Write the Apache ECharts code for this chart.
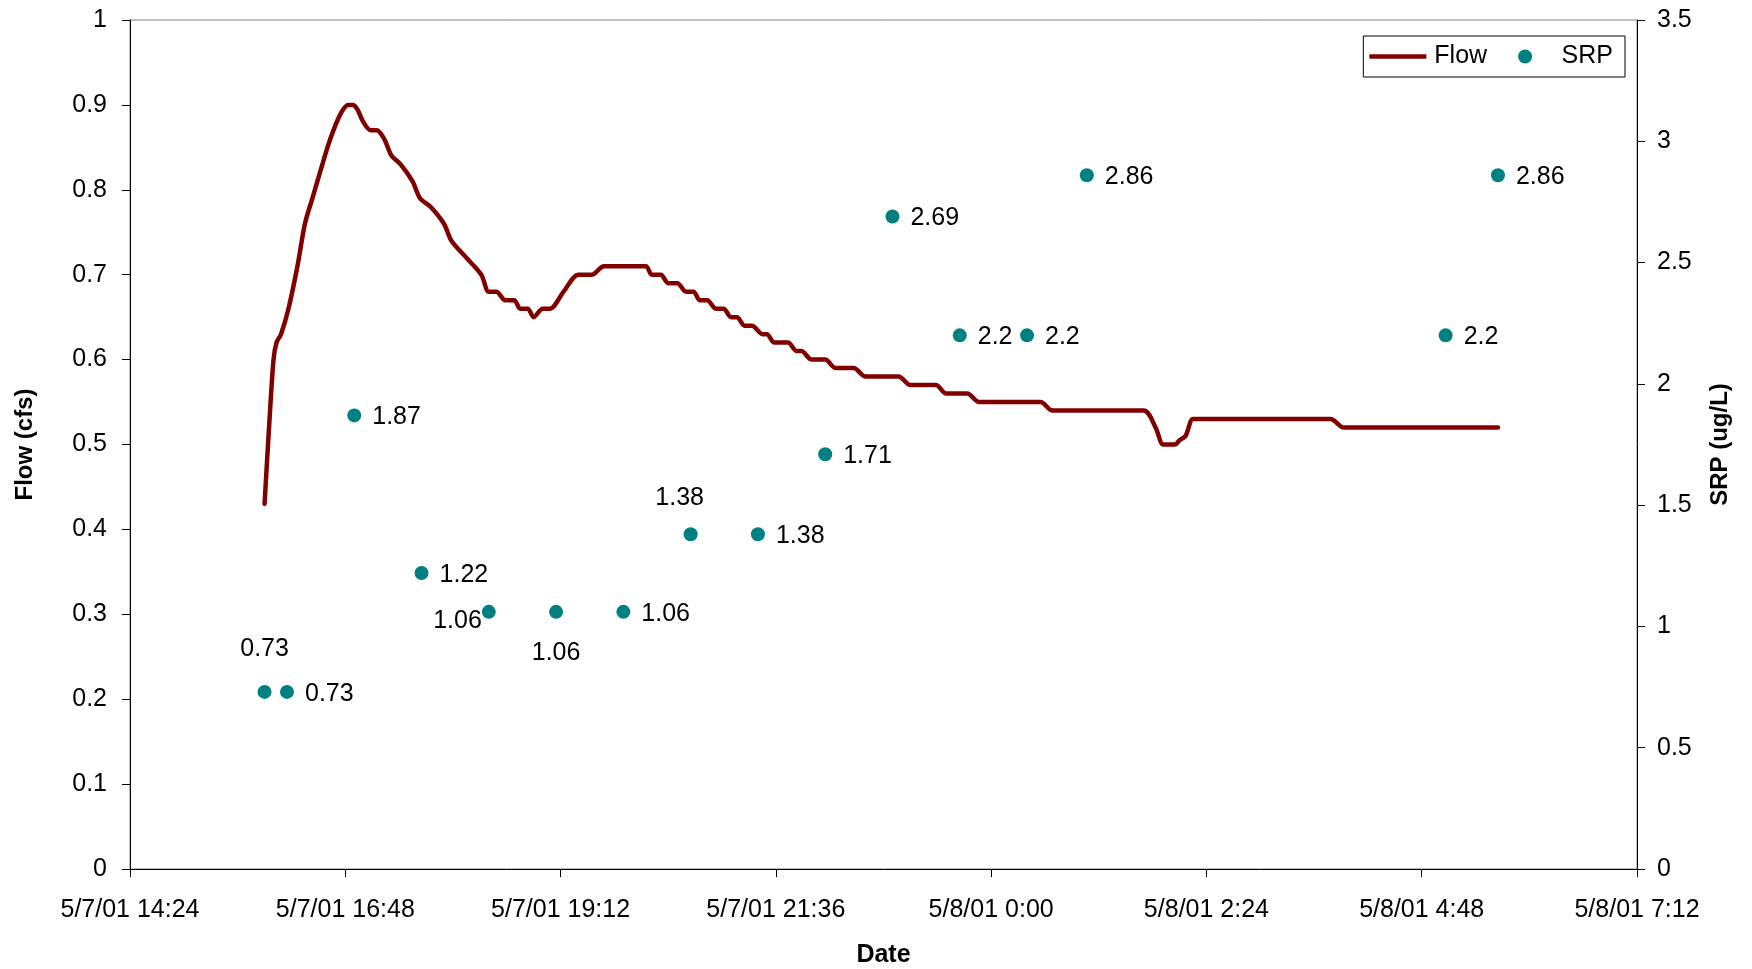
<!DOCTYPE html>
<html>
<head>
<meta charset="utf-8">
<title>Flow and SRP</title>
<script src="https://cdn.jsdelivr.net/npm/echarts@6/dist/echarts.min.js"></script>
<style>
  html, body { margin: 0; padding: 0; background: #ffffff; }
  #chart { width: 1752px; height: 969px; }
</style>
</head>
<body>
<div id="chart"></div>
<script>
// Axis start and the tick labels along the date axis (every 2 h 24 min)
const axisStart = '5/7/01 14:24';
const dateTickLabels = ['5/7/01 14:24', '5/7/01 16:48', '5/7/01 19:12', '5/7/01 21:36',
  '5/8/01 0:00', '5/8/01 2:24', '5/8/01 4:48', '5/8/01 7:12'];
const flowTickLabels = ['0', '0.1', '0.2', '0.3', '0.4', '0.5', '0.6', '0.7', '0.8', '0.9', '1'];
const srpTickLabels = ['0', '0.5', '1', '1.5', '2', '2.5', '3', '3.5'];

// Flow record (cfs)
const flowTimes = [
  '5/7/01 15:54', '5/7/01 15:57', '5/7/01 16:00', '5/7/01 16:02', '5/7/01 16:05', '5/7/01 16:10',
  '5/7/01 16:16', '5/7/01 16:21', '5/7/01 16:26', '5/7/01 16:31', '5/7/01 16:38', '5/7/01 16:45',
  '5/7/01 16:50', '5/7/01 16:53', '5/7/01 16:56', '5/7/01 17:00', '5/7/01 17:05', '5/7/01 17:09',
  '5/7/01 17:14', '5/7/01 17:19', '5/7/01 17:25', '5/7/01 17:33', '5/7/01 17:38', '5/7/01 17:45',
  '5/7/01 17:54', '5/7/01 17:59', '5/7/01 18:09', '5/7/01 18:19', '5/7/01 18:24', '5/7/01 18:29',
  '5/7/01 18:35', '5/7/01 18:41', '5/7/01 18:45', '5/7/01 18:50', '5/7/01 18:54', '5/7/01 19:00',
  '5/7/01 19:05', '5/7/01 19:14', '5/7/01 19:24', '5/7/01 19:33', '5/7/01 19:41', '5/7/01 20:09',
  '5/7/01 20:13', '5/7/01 20:19', '5/7/01 20:24', '5/7/01 20:30', '5/7/01 20:36', '5/7/01 20:41',
  '5/7/01 20:45', '5/7/01 20:50', '5/7/01 20:56', '5/7/01 21:01', '5/7/01 21:06', '5/7/01 21:10',
  '5/7/01 21:15', '5/7/01 21:20', '5/7/01 21:27', '5/7/01 21:30', '5/7/01 21:35', '5/7/01 21:44',
  '5/7/01 21:50', '5/7/01 21:53', '5/7/01 22:00', '5/7/01 22:09', '5/7/01 22:16', '5/7/01 22:28',
  '5/7/01 22:36', '5/7/01 22:58', '5/7/01 23:06', '5/7/01 23:23', '5/7/01 23:30', '5/7/01 23:44',
  '5/7/01 23:52', '5/8/01 0:33', '5/8/01 0:41', '5/8/01 1:42', '5/8/01 1:50', '5/8/01 1:55',
  '5/8/01 1:58', '5/8/01 2:03', '5/8/01 2:06', '5/8/01 2:10', '5/8/01 2:15', '5/8/01 2:20',
  '5/8/01 3:47', '5/8/01 3:56', '5/8/01 5:39'
];
const flowValues = [
  0.43, 0.52, 0.60, 0.62, 0.63, 0.66,
  0.71, 0.76, 0.79, 0.82, 0.86, 0.89,
  0.90, 0.90, 0.895, 0.88, 0.87, 0.87,
  0.86, 0.84, 0.83, 0.81, 0.79, 0.78,
  0.76, 0.74, 0.72, 0.70, 0.68, 0.68,
  0.67, 0.67, 0.66, 0.66, 0.65, 0.66,
  0.66, 0.68, 0.70, 0.70, 0.71, 0.71,
  0.70, 0.70, 0.69, 0.69, 0.68, 0.68,
  0.67, 0.67, 0.66, 0.66, 0.65, 0.65,
  0.64, 0.64, 0.63, 0.63, 0.62, 0.62,
  0.61, 0.61, 0.60, 0.60, 0.59, 0.59,
  0.58, 0.58, 0.57, 0.57, 0.56, 0.56,
  0.55, 0.55, 0.54, 0.54, 0.52, 0.50,
  0.50, 0.50, 0.505, 0.51, 0.53, 0.53,
  0.53, 0.52, 0.52
];

// SRP samples (ug/L)
const srpTimes = [
  '5/7/01 15:54', '5/7/01 16:09', '5/7/01 16:54', '5/7/01 17:39', '5/7/01 18:24', '5/7/01 19:09',
  '5/7/01 19:54', '5/7/01 20:39', '5/7/01 21:24', '5/7/01 22:09', '5/7/01 22:54', '5/7/01 23:39',
  '5/8/01 0:24', '5/8/01 1:04', '5/8/01 5:04', '5/8/01 5:39'
];
const srpValues = [0.73, 0.73, 1.87, 1.22, 1.06, 1.06, 1.06, 1.38, 1.38, 1.71, 2.69, 2.2, 2.2, 2.86, 2.2, 2.86];

// minutes elapsed since the axis start, from 'M/D/YY H:MM'
function minutesOf(s) {
  const [d, t] = s.split(' ');
  const [mo, day] = d.split('/').map(Number);
  const [h, m] = t.split(':').map(Number);
  return day * 1440 + h * 60 + m;
}
const t0 = minutesOf(axisStart);
const toX = s => minutesOf(s) - t0;

const FONT = 'Liberation Sans, Arial, sans-serif';
const TICK_STEP = 144;

// label placement for the crowded SRP points (by sample index)
const labelPlacement = {
  0: { position: 'top', distance: 23, offset: [0, 0] },
  4: { position: 'left', distance: 0, offset: [0, 9] },
  5: { position: 'bottom', distance: 22, offset: [0, 0] },
  7: { position: 'top', distance: 17, offset: [-11, 0] }
};

const flowData = flowTimes.map((t, i) => [toX(t), flowValues[i]]);
const srpData = srpTimes.map((t, i) => {
  const item = { value: [toX(t), srpValues[i]] };
  if (labelPlacement[i]) item.label = labelPlacement[i];
  return item;
});

const chart = echarts.init(document.getElementById('chart'), null, { renderer: 'canvas' });
chart.setOption({
  backgroundColor: '#ffffff',
  animation: false,
  textStyle: { fontFamily: FONT },
  grid: {
    left: 130, right: 115, top: 20, bottom: 100,
    containLabel: false, outerBoundsMode: 'none',
    show: true, borderColor: '#808080', borderWidth: 1, backgroundColor: '#ffffff'
  },
  legend: {
    right: 127, top: 36,
    orient: 'horizontal',
    itemWidth: 57, itemHeight: 14, itemGap: 31,
    padding: [8, 12, 8, 6],
    borderColor: '#000000', borderWidth: 1,
    textStyle: { fontSize: 25, color: '#000000', fontFamily: FONT, padding: [0, 0, 0, 3] },
    data: [
      { name: 'Flow', icon: 'path://M0,0 L57,0 L57,4.5 L0,4.5 Z', itemStyle: { color: '#800000' } },
      { name: 'SRP', icon: 'circle', itemStyle: { color: '#008080', opacity: 1 } }
    ]
  },
  xAxis: {
    type: 'value',
    min: 0, max: TICK_STEP * (dateTickLabels.length - 1), interval: TICK_STEP,
    name: 'Date', nameLocation: 'middle', nameGap: 74,
    nameTextStyle: { fontSize: 25, fontWeight: 'bold', color: '#000000', fontFamily: FONT },
    axisLine: { show: true, onZero: false, lineStyle: { color: '#000000', width: 1 } },
    axisTick: { show: true, inside: false, length: 8, lineStyle: { color: '#000000' } },
    axisLabel: {
      fontSize: 25, color: '#000000', margin: 29, fontFamily: FONT,
      formatter: v => dateTickLabels[Math.round(v / TICK_STEP)] || ''
    },
    splitLine: { show: false }
  },
  yAxis: [
    {
      type: 'value', min: 0, max: 1, interval: 0.1, position: 'left',
      name: 'Flow (cfs)', nameLocation: 'middle', nameGap: 93, nameRotate: 90,
      nameTextStyle: { fontSize: 24, fontWeight: 'bold', color: '#000000', fontFamily: FONT },
      axisLine: { show: true, lineStyle: { color: '#000000', width: 1 } },
      axisTick: { show: true, inside: false, length: 8, lineStyle: { color: '#000000' } },
      axisLabel: {
        fontSize: 25, color: '#000000', margin: 23, fontFamily: FONT,
        formatter: v => flowTickLabels[Math.round(v * 10)]
      },
      splitLine: { show: false }
    },
    {
      type: 'value', min: 0, max: 3.5, interval: 0.5, position: 'right',
      name: 'SRP (ug/L)', nameLocation: 'middle', nameGap: 71, nameRotate: 90,
      nameTextStyle: { fontSize: 24, fontWeight: 'bold', color: '#000000', fontFamily: FONT },
      axisLine: { show: true, lineStyle: { color: '#000000', width: 1 } },
      axisTick: { show: true, inside: false, length: 8, lineStyle: { color: '#000000' } },
      axisLabel: {
        fontSize: 25, color: '#000000', margin: 20, fontFamily: FONT,
        formatter: v => srpTickLabels[Math.round(v * 2)]
      },
      splitLine: { show: false }
    }
  ],
  series: [
    {
      name: 'Flow',
      type: 'line',
      yAxisIndex: 0,
      data: flowData,
      showSymbol: false,
      symbol: 'none',
      smooth: 0.3,
      lineStyle: { color: '#800000', width: 4.5, cap: 'round', join: 'round' },
      itemStyle: { color: '#800000' },
      z: 2
    },
    {
      name: 'SRP',
      type: 'scatter',
      yAxisIndex: 1,
      data: srpData,
      symbol: 'circle',
      symbolSize: 14,
      itemStyle: { color: '#008080', opacity: 1 },
      label: {
        show: true, position: 'right', distance: 11, offset: [0, 2],
        fontSize: 25, color: '#000000', fontFamily: FONT,
        formatter: p => String(p.value[1])
      },
      z: 3
    }
  ]
});
</script>
</body>
</html>
